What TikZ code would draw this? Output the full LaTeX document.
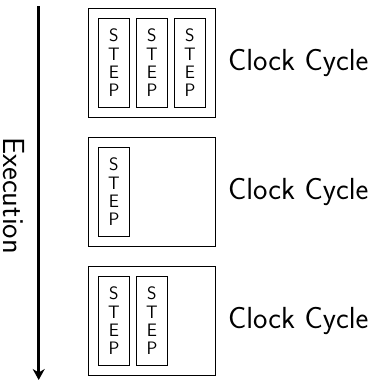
\documentclass[tikz,border=0pt]{standalone}
\usetikzlibrary{arrows.meta}
\begin{document}
\begin{tikzpicture}[x=1pt,y=-1pt,
  cyclebox/.style={draw, line width=0.8pt, minimum width=127pt, minimum height=109pt, inner sep=0pt, anchor=north west},
  stepbox/.style={draw, line width=0.8pt, minimum width=31pt, minimum height=89pt, inner sep=0pt, anchor=north west, align=center, font=\sffamily\fontsize{18}{18.3}\selectfont},
  cyclelabel/.style={anchor=west, inner sep=0pt, font=\sffamily\fontsize{30.5}{36}\selectfont},
  execlabel/.style={rotate=-90, inner sep=0pt, font=\sffamily\fontsize{30.5}{36}\selectfont}
]
\useasboundingbox (0,0) rectangle (371,381);
% execution arrow
\coordinate (top) at (38.7,6);
\coordinate (bot) at (38.7,380);
\draw[line width=2.7pt, -{Stealth[length=11pt,width=12pt]}] (top) -- (bot);
\node[execlabel] (ex) at (14,195.5) {Execution};
% cycle 1
\node[cyclebox] (c1) at (88,8) {};
\node[stepbox] (s11) at (98,18) {S\\T\\E\\P};
\node[stepbox] (s12) at (136,18) {S\\T\\E\\P};
\node[stepbox] (s13) at (174,18) {S\\T\\E\\P};
\node[cyclelabel] (l1) at ([xshift=12pt]c1.east) {Clock Cycle};
% cycle 2
\node[cyclebox] (c2) at (88,137) {};
\node[stepbox] (s21) at (98,147) {S\\T\\E\\P};
\node[cyclelabel] (l2) at ([xshift=12pt]c2.east) {Clock Cycle};
% cycle 3
\node[cyclebox] (c3) at (88,266) {};
\node[stepbox] (s31) at (98,276) {S\\T\\E\\P};
\node[stepbox] (s32) at (136,276) {S\\T\\E\\P};
\node[cyclelabel] (l3) at ([xshift=12pt]c3.east) {Clock Cycle};
\end{tikzpicture}
\end{document}
